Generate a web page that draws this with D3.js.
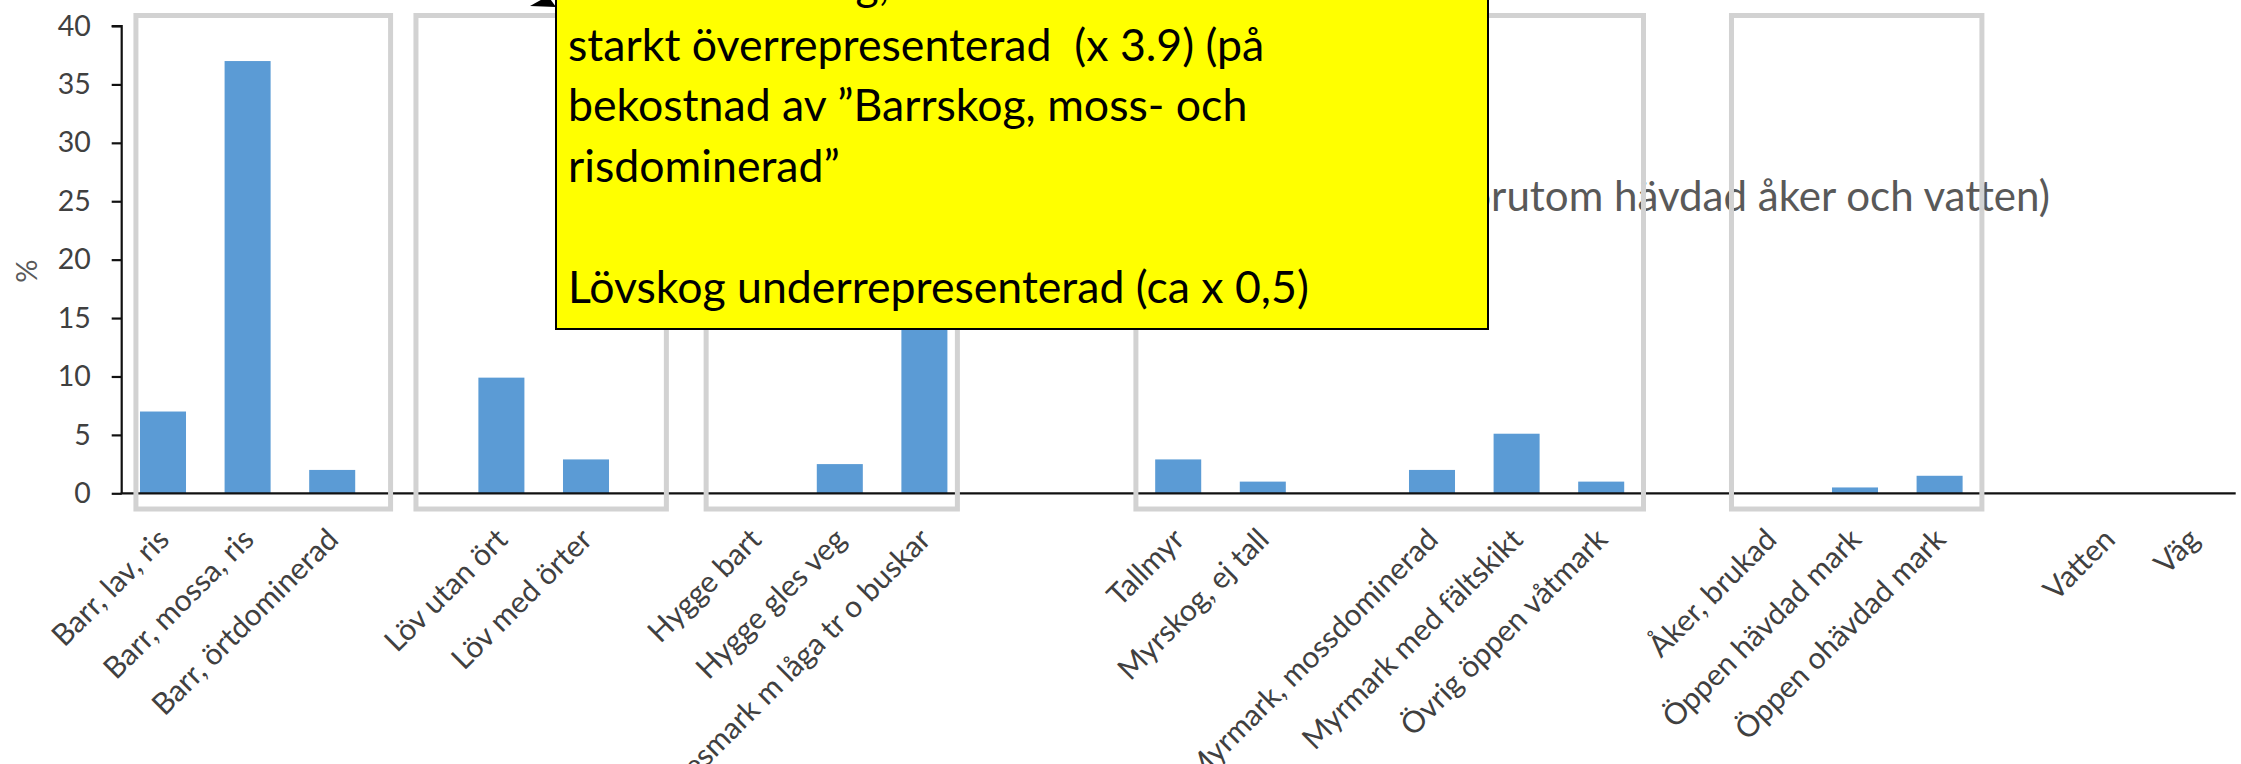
<!DOCTYPE html>
<html>
<head>
<meta charset="utf-8">
<script src="https://cdn.jsdelivr.net/npm/d3@7"></script>
<style>
  html, body { margin: 0; padding: 0; background: #ffffff; overflow: hidden; }
  svg { display: block; }
</style>
</head>
<body>
<svg id="chart" width="2241" height="764"></svg>
<script>
// ---- data -------------------------------------------------------------
// Habitat categories along the x axis; empty strings are spacer slots.
const categories = [
  "Barr, lav, ris", "Barr, mossa, ris", "Barr, örtdominerad", "",
  "Löv utan ört", "Löv med örter", "",
  "Hygge bart", "Hygge gles veg", "Hyggesmark m låga tr o buskar", "", "",
  "Tallmyr", "Myrskog, ej tall", "", "Myrmark, mossdominerad",
  "Myrmark med fältskikt", "Övrig öppen våtmark", "",
  "Åker, brukad", "Öppen hävdad mark", "Öppen ohävdad mark", "",
  "Vatten", "Väg"
];
// Share of positions (%) per category; null = spacer without a bar.
const values = [
  7, 37, 2, null,
  9.9, 2.9, null,
  0, 2.5, 24.7, null, null,
  2.9, 1, null, 2,
  5.1, 1, null,
  0, 0.5, 1.5, null,
  0, 0
];
const yTicks = [0, 5, 10, 15, 20, 25, 30, 35, 40];
// Habitat groups outlined with a grey frame (first and last category index).
const groups = [[0, 2], [4, 5], [7, 9], [12, 17], [19, 21]];

const titleText = "Marktyper (alla förutom hävdad åker och vatten)";
const titleTail = "rutom hävdad åker och vatten)";
const noteLines = [
  "Tät lövbuskskog,",
  "starkt överrepresenterad  (x 3.9) (på",
  "bekostnad av ”Barrskog, moss- och",
  "risdominerad”",
  "",
  "Lövskog underrepresenterad (ca x 0,5)"
];

// ---- layout -----------------------------------------------------------
const FONT = "Lato, 'Open Sans', 'DejaVu Sans', sans-serif";
const svg = d3.select("#chart");

const x = d3.scaleBand()
  .domain(d3.range(categories.length))
  .range([120.7, 2235.7])
  .paddingInner(0.456)
  .paddingOuter(0.228);

const y = d3.scaleLinear().domain([0, 40]).range([493.3, 26]);

// measuring helper for fitting text widths
function textWidth(str, size, family) {
  const t = svg.append("text").attr("font-family", family).attr("font-size", size)
    .style("white-space", "pre").text(str);
  const w = t.node().getComputedTextLength();
  t.remove();
  return w;
}

// ---- title (sits behind the frames) ------------------------------------
const titleSize = 100 * 559 / textWidth(titleTail, 100, FONT);
svg.append("text")
  .attr("x", 2050).attr("y", 211)
  .attr("text-anchor", "end")
  .attr("font-family", FONT)
  .attr("font-size", titleSize)
  .attr("fill", "#595959")
  .text(titleText);

// ---- bars ---------------------------------------------------------------
const barData = values.map((v, i) => ({ i, v })).filter(d => d.v !== null);
svg.append("g").selectAll("rect")
  .data(barData)
  .join("rect")
  .attr("x", d => x(d.i))
  .attr("width", x.bandwidth())
  .attr("y", d => y(d.v))
  .attr("height", d => y(0) - y(d.v))
  .attr("fill", "#5b9bd5");

// ---- axes ---------------------------------------------------------------
const yAxis = d3.axisLeft(y).tickValues(yTicks).tickSize(10).tickPadding(21);
const gy = svg.append("g").attr("transform", `translate(${x.range()[0] + 1},0)`).call(yAxis);
gy.select(".domain").attr("stroke", "#111").attr("stroke-width", 2.2)
  .attr("d", `M-10,${y(40)}H0V${y(0)}`);
gy.selectAll(".tick line").attr("stroke", "#111").attr("stroke-width", 2.2);
gy.selectAll(".tick text")
  .attr("font-family", FONT).attr("font-size", 28.5).attr("fill", "#404040");

const xAxis = d3.axisBottom(x).tickSize(0).tickFormat(i => categories[i]);
const gx = svg.append("g").attr("transform", `translate(0,${y(0)})`).call(xAxis);
gx.select(".domain").attr("stroke", "#111").attr("stroke-width", 2.2)
  .attr("d", `M${x.range()[0]},0H${x.range()[1]}`);
gx.selectAll(".tick text")
  .attr("font-family", FONT).attr("font-size", 30).attr("fill", "#404040")
  .attr("text-anchor", "end")
  .attr("x", 0).attr("y", 0).attr("dy", 0)
  .attr("transform", "translate(8,48) rotate(-45)");

// y axis title
svg.append("text")
  .attr("transform", `translate(37,271) rotate(-90)`)
  .attr("text-anchor", "middle")
  .attr("font-family", FONT).attr("font-size", 29).attr("fill", "#595959")
  .text("%");

// ---- grey group frames ---------------------------------------------------
// left/right insets in band units for each frame
const frameInset = [[0.18, 0.19], [-0.51, 0.45], [-0.08, -0.11], [0, 0], [0.04, 0]];
const step = x.step();
const x0 = x.range()[0];
svg.append("g").selectAll("rect")
  .data(groups)
  .join("rect")
  .attr("x", (g, k) => x0 + (g[0] + frameInset[k][0]) * step)
  .attr("width", (g, k) => (g[1] + 1 + frameInset[k][1] - g[0] - frameInset[k][0]) * step)
  .attr("y", 15.5)
  .attr("height", 509 - 15.5)
  .attr("fill", "none")
  .attr("stroke", "#d2d2d2")
  .attr("stroke-width", 5);

// ---- yellow note box ------------------------------------------------------
const note = svg.append("g");
note.append("path")
  .attr("d", "M556,7 L530,6 L548,-4 Z")
  .attr("fill", "#000");
note.append("rect")
  .attr("x", 556).attr("y", -40)
  .attr("width", 1488 - 556).attr("height", 329 + 40)
  .attr("fill", "#ffff00")
  .attr("stroke", "#000").attr("stroke-width", 2);
const noteSize = 100 * 741 / textWidth(noteLines[5], 100, FONT);
note.selectAll("text")
  .data(noteLines)
  .join("text")
  .attr("x", 568)
  .attr("y", (d, i) => 0 + i * 60.6)
  .attr("font-family", FONT)
  .attr("font-size", noteSize)
  .attr("fill", "#000")
  .style("white-space", "pre")
  .text(d => d);
</script>
</body>
</html>
